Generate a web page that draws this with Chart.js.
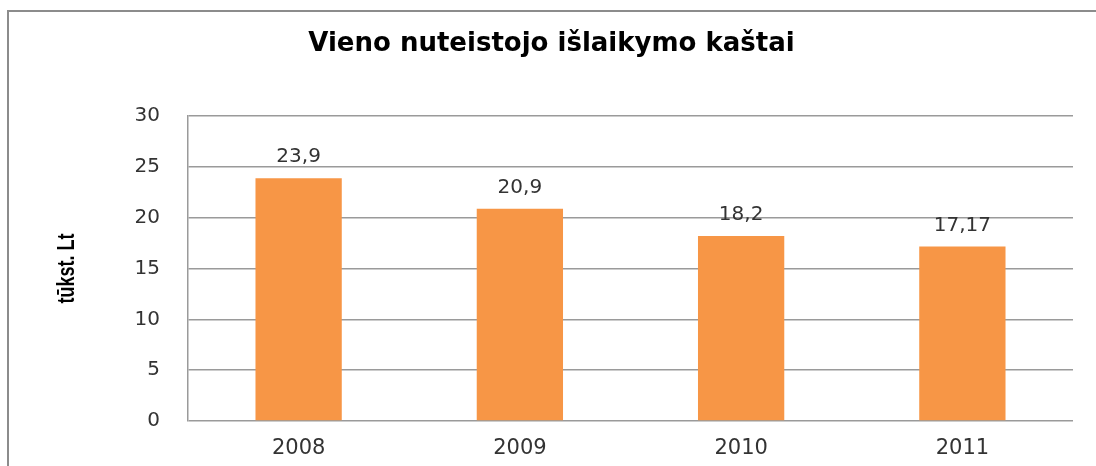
<!DOCTYPE html>
<html>
<head>
<meta charset="utf-8">
<script src="https://cdn.jsdelivr.net/npm/chart.js@4/dist/chart.umd.min.js"></script>
<style>
  html, body { margin: 0; padding: 0; background: #fff; overflow: hidden; }
  canvas { display: block; }
</style>
</head>
<body>
<canvas id="chart" width="1096" height="466"></canvas>
<script>
const years = ["2008", "2009", "2010", "2011"];
const costs = [23.9, 20.9, 18.2, 17.17];
const yTicks = [0, 5, 10, 15, 20, 25, 30];
const yTitle = "tūkst. Lt";

// outer frame: only the left and top edges show in the original crop
const frame = {
    id: "frame",
    beforeDraw(chart) {
        const ctx = chart.ctx;
        ctx.save();
        ctx.fillStyle = "#fff";
        ctx.fillRect(0, 0, chart.width, chart.height);
        ctx.restore();
    },
    afterDraw(chart) {
        const ctx = chart.ctx;
        const area = chart.chartArea;
        ctx.save();
        // keep the space right of the plot clean
        ctx.fillStyle = "#fff";
        ctx.fillRect(area.right + 1, 0, chart.width - area.right, chart.height);
        ctx.strokeStyle = "#8c8c8c";
        ctx.lineWidth = 2;
        ctx.beginPath();
        ctx.moveTo(8, 466);
        ctx.lineTo(8, 11);
        ctx.lineTo(1096, 11);
        ctx.stroke();
        ctx.restore();
    }
};

// value labels over the bars + condensed vertical axis title
const barLabels = {
    id: "barLabels",
    afterDatasetsDraw(chart) {
        const ctx = chart.ctx;
        const meta = chart.getDatasetMeta(0);
        ctx.save();
        ctx.font = "20px 'DejaVu Sans'";
        ctx.fillStyle = "#333";
        ctx.textAlign = "center";
        ctx.textBaseline = "middle";
        meta.data.forEach((bar, i) => {
            ctx.fillText(String(costs[i]).replace(".", ","), bar.x, bar.y - 21);
        });
        ctx.restore();

        const area = chart.chartArea;
        ctx.save();
        ctx.translate(67, (area.top + area.bottom) / 2);
        ctx.rotate(-Math.PI / 2);
        ctx.scale(0.75, 1);
        ctx.font = "bold 24px 'Liberation Sans'";
        ctx.fillStyle = "#000";
        ctx.textAlign = "center";
        ctx.textBaseline = "middle";
        ctx.fillText(yTitle, 0, 0);
        ctx.restore();
    }
};

new Chart(document.getElementById("chart").getContext("2d"), {
    type: "bar",
    data: {
        labels: years,
        datasets: [{
            data: costs,
            backgroundColor: "#F79646",
            categoryPercentage: 1,
            barPercentage: 0.39
        }]
    },
    options: {
        responsive: false,
        animation: false,
        layout: { padding: { left: 30, right: 23, top: 0, bottom: 0 } },
        plugins: {
            legend: { display: false },
            tooltip: { enabled: false },
            title: {
                display: true,
                text: "Vieno nuteistojo išlaikymo kaštai",
                color: "#000",
                font: { family: "'DejaVu Sans'", size: 26, weight: "bold", lineHeight: 1.2 },
                padding: { top: 29, bottom: 56 }
            }
        },
        scales: {
            x: {
                grid: { display: false, drawTicks: false },
                border: { display: false },
                ticks: { color: "#333", font: { family: "'DejaVu Sans'", size: 21 }, padding: 15 },
                afterFit: s => { s.height = 45; }
            },
            y: {
                min: 0,
                max: 30,
                afterBuildTicks: s => { s.ticks = yTicks.map(v => ({ value: v })); },
                grid: { color: "#9a9a9a", lineWidth: 1.5, drawTicks: false },
                border: { display: true, color: "#9a9a9a", width: 1.5 },
                ticks: { color: "#333", font: { family: "'DejaVu Sans'", size: 20 }, padding: 28 },
                afterFit: s => { s.width = 158; }
            }
        }
    },
    plugins: [frame, barLabels]
});
</script>
</body>
</html>
